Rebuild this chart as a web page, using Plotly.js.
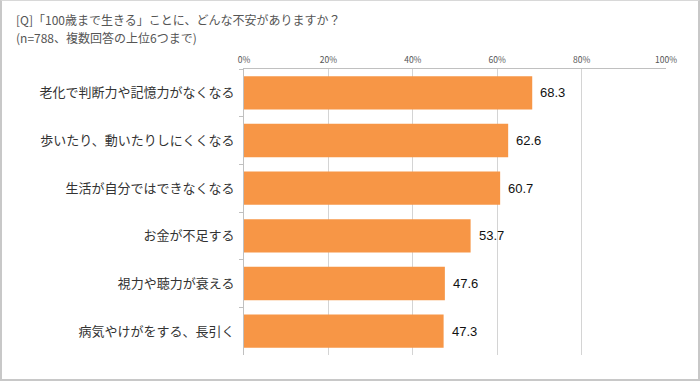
<!DOCTYPE html>
<html>
<head>
<meta charset="utf-8">
<script src="https://cdn.plot.ly/plotly-3.0.1.min.js"></script>
<style>
html,body{margin:0;padding:0;background:#fff;}
#wrap{position:relative;width:700px;height:381px;box-sizing:border-box;border:2px solid #c8c8c8;border-top:1px solid #d8d8d8;}
#chart{position:absolute;left:-2px;top:-1px;width:700px;height:381px;}
</style>
</head>
<body>
<div id="wrap"><div id="chart"></div></div>
<script>
const categories = [
  "老化で判断力や記憶力がなくなる",
  "歩いたり、動いたりしにくくなる",
  "生活が自分ではできなくなる",
  "お金が不足する",
  "視力や聴力が衰える",
  "病気やけがをする、長引く"
];
const values = [68.3, 62.6, 60.7, 53.7, 47.6, 47.3];
const tickVals = [0, 20, 40, 60, 80, 100];
const tickText = ["0%", "20%", "40%", "60%", "80%", "100%"];
const titleLines = [
  "[Q]「100歳まで生きる」ことに、どんな不安がありますか？",
  "(n=788、複数回答の上位6つまで)"
];

const font = "Noto Sans CJK JP, sans-serif";
const numFont = "Liberation Sans, Arial, sans-serif";
const W = 700, H = 381, L = 244, R = 34, T = 69, B = 26;
const pw = W - L - R, ph = H - T - B;

const trace = {
  type: "bar",
  orientation: "h",
  x: values,
  y: categories,
  marker: {color: "#F79646", line: {width: 0}},
  hoverinfo: "none"
};

const annotations = values.map((v, i) => ({
  x: v, y: categories[i], xref: "x", yref: "y",
  text: v.toFixed(1), showarrow: false,
  xanchor: "left", xshift: 6,
  font: {family: numFont, size: 13, color: "#111"}
}));

const titleCenters = [19, 37];
titleLines.forEach((t, i) => {
  annotations.push({
    xref: "paper", yref: "paper",
    x: (14 - L) / pw, y: 1 + (T - titleCenters[i]) / ph,
    xanchor: "left", yanchor: "middle",
    text: t, showarrow: false,
    font: {family: font, size: 12, color: "#555"}
  });
});

const layout = {
  width: W, height: H,
  margin: {l: L, r: R, t: T, b: B},
  paper_bgcolor: "rgba(0,0,0,0)",
  plot_bgcolor: "rgba(0,0,0,0)",
  showlegend: false,
  bargap: 0.3,
  xaxis: {
    side: "top",
    range: [0, 100],
    tickvals: tickVals,
    ticktext: tickText,
    showgrid: true,
    gridcolor: "#d4d4d4",
    gridwidth: 1,
    zeroline: false,
    showline: true,
    linecolor: "#c0c0c0",
    linewidth: 1,
    ticks: "",
    ticklabelstandoff: 2,
    tickfont: {family: font, size: 8.5, color: "#555"},
    fixedrange: true
  },
  yaxis: {
    autorange: "reversed",
    showline: true,
    linecolor: "#c0c0c0",
    linewidth: 1,
    ticks: "outside",
    ticklen: 4,
    tickcolor: "#c0c0c0",
    tickson: "boundaries",
    ticklabelstandoff: 6,
    showgrid: false,
    tickfont: {family: font, size: 13, color: "#333"},
    fixedrange: true
  },
  annotations: annotations
};

Plotly.newPlot("chart", [trace], layout, {displayModeBar: false, staticPlot: true});
</script>
</body>
</html>
